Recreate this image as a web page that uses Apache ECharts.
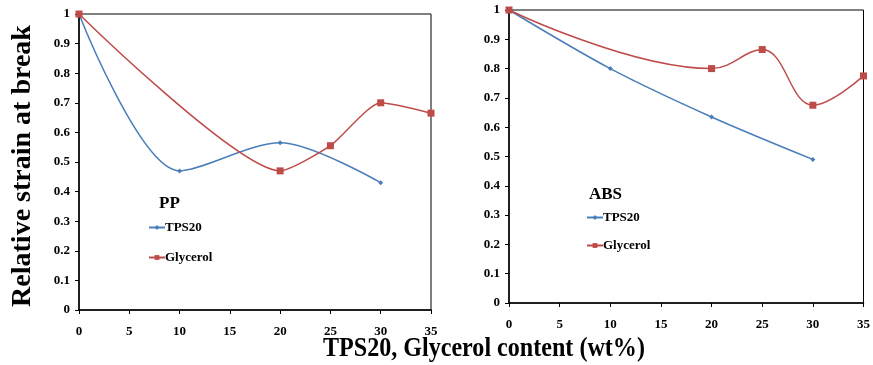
<!DOCTYPE html>
<html>
<head>
<meta charset="utf-8">
<script src="https://cdn.jsdelivr.net/npm/echarts@6/dist/echarts.min.js"></script>
<style>
  html, body { margin: 0; padding: 0; background: #fff; }
  #chart { width: 873px; height: 365px; }
</style>
</head>
<body>
<div id="chart"></div>
<script>
// PP panel
var ppTps = [[0, 1], [10, 0.47], [20, 0.565], [30, 0.43]];
var ppGly = [[0, 1], [20, 0.47], [25, 0.555], [30, 0.70], [35, 0.665]];
// ABS panel
var absTps = [[0, 1], [10, 0.80], [20, 0.635], [30, 0.49]];
var absGly = [[0, 1], [20, 0.80], [25, 0.865], [30, 0.675], [35, 0.775]];

var blue = "#4a7ebb";
var red = "#be4b48";
var font = "Liberation Serif";

var chart = echarts.init(document.getElementById("chart"));

function xAxis(idx) {
  return {
    type: "value", gridIndex: idx, min: 0, max: 35, interval: 5,
    axisLine: { lineStyle: { color: "#000", width: 1.5 } },
    axisTick: { lineStyle: { color: "#000" }, length: 4 },
    axisLabel: { color: "#000", fontFamily: font, fontWeight: "bold", fontSize: 13, margin: 15 },
    splitLine: { show: false }
  };
}
function yAxis(idx) {
  return {
    type: "value", gridIndex: idx, min: 0, max: 1, interval: 0.1,
    axisLine: { show: true, lineStyle: { color: "#000", width: 1.5 } },
    axisTick: { show: true, lineStyle: { color: "#000" }, length: 4 },
    axisLabel: { color: "#000", fontFamily: font, fontWeight: "bold", fontSize: 13, margin: 9,
      formatter: function (v) { return +v.toFixed(1) + ""; } },
    splitLine: { show: false }
  };
}
function line(name, data, color, sym, size, xi, sm) {
  return {
    name: name, type: "line", xAxisIndex: xi, yAxisIndex: xi, data: data,
    smooth: sm, symbol: sym, symbolSize: size, showSymbol: true,
    lineStyle: { color: color, width: 1.5 }, itemStyle: { color: color }
  };
}

var legendText = { fontFamily: font, fontWeight: "bold", fontSize: 13, color: "#000", padding: [0, 0, 0, -5] };

chart.setOption({
  animation: false,
  grid: [
    { left: 79, right: 442, top: 14, bottom: 55, show: true, borderColor: "#000", borderWidth: 1 },
    { left: 509, right: 5, top: 10, bottom: 62, show: true, borderColor: "#000", borderWidth: 1 }
  ],
  xAxis: [xAxis(0), xAxis(1)],
  yAxis: [yAxis(0), yAxis(1)],
  title: [
    { text: "PP", left: 154, top: 190, textStyle: { fontFamily: font, fontWeight: "bold", fontSize: 17, color: "#000" } },
    { text: "ABS", left: 584, top: 181, textStyle: { fontFamily: font, fontWeight: "bold", fontSize: 17, color: "#000" } }
  ],
  legend: [
    { left: 143, top: 216, orient: "vertical", itemGap: 17, itemWidth: 16, itemHeight: 6,
      data: ["TPS20", "Glycerol"], selectedMode: false, textStyle: legendText },
    { left: 581, top: 206, orient: "vertical", itemGap: 15, itemWidth: 16, itemHeight: 6,
      data: ["TPS20", "Glycerol"], selectedMode: false, textStyle: legendText }
  ],
  graphic: [
    { type: "text", x: 323, y: 335, scaleX: 0.86,
      style: { text: "TPS20, Glycerol content (wt%)", font: "bold 28px 'Liberation Serif'", fill: "#000" } },
    { type: "text", x: 23, y: 166, rotation: Math.PI / 2,
      style: { text: "Relative strain at break", font: "bold 28px 'Liberation Serif'", fill: "#000",
        align: "center", verticalAlign: "middle" } }
  ],
  series: [
    line("TPS20", ppTps, blue, "diamond", 5, 0, 0.3),
    line("Glycerol", ppGly, red, "rect", 7, 0, 0.2),
    line("TPS20", absTps, blue, "diamond", 5, 1, 0.3),
    line("Glycerol", absGly, red, "rect", 7, 1, 0.4)
  ]
});
</script>
</body>
</html>
